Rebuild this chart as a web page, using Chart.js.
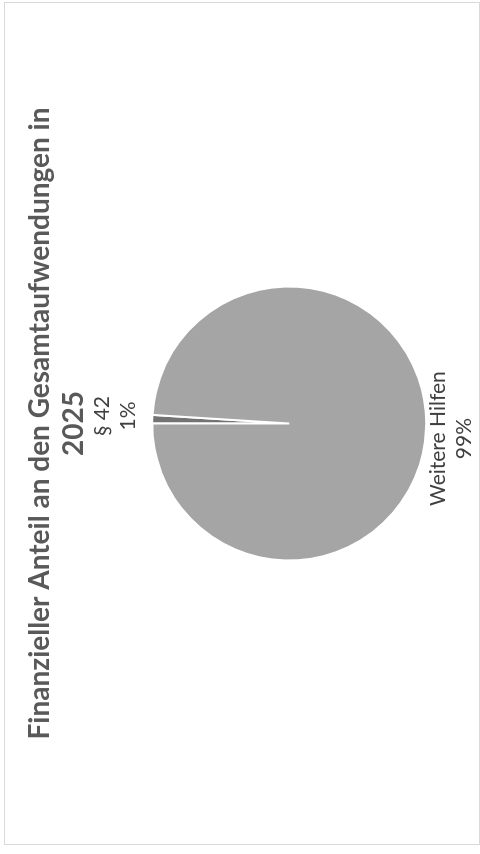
<!DOCTYPE html>
<html>
<head>
<meta charset="utf-8">
<script src="https://cdn.jsdelivr.net/npm/chart.js@4.4.1/dist/chart.umd.min.js"></script>
<style>
  html, body { margin: 0; padding: 0; background: #ffffff; width: 480px; height: 854px; overflow: hidden; }
  #frame {
    position: absolute; left: 4px; top: 2px;
    width: 843px; height: 476px;
    box-sizing: border-box;
    border: 1px solid #d9d9d9;
    background: #ffffff;
    transform-origin: 0 0;
    transform: translate(0, 843px) rotate(-90deg);
  }
  #c { position: absolute; left: -1px; top: -1px; }
</style>
</head>
<body>
<div id="frame"><canvas id="c" width="843" height="476"></canvas></div>
<script>
const categories = ['§ 42', 'Weitere Hilfen'];
const shares = [1, 99];
const sliceColors = ['#737373', '#a5a5a5'];
const titleLines = ['Finanzieller Anteil an den Gesamtaufwendungen in', '2025'];

const FONT = "Lato, 'Open Sans', 'DejaVu Sans', sans-serif";

const outsideLabels = {
  id: 'outsideLabels',
  afterDatasetsDraw(chart, args, opts) {
    const ctx = chart.ctx;
    const meta = chart.getDatasetMeta(0);
    const data = chart.data.datasets[0].data;
    const total = data.reduce((a, b) => a + b, 0);
    ctx.save();
    ctx.font = opts.size + 'px ' + FONT;
    ctx.fillStyle = opts.color;
    ctx.textAlign = 'center';
    ctx.textBaseline = 'middle';
    meta.data.forEach((arc, i) => {
      const p = arc.getProps(['x', 'y', 'startAngle', 'endAngle', 'outerRadius'], true);
      const mid = (p.startAngle + p.endAngle) / 2;
      const d = p.outerRadius + opts.gap[i];
      const cx = p.x + Math.cos(mid) * d + opts.shift[i];
      const cy = p.y + Math.sin(mid) * d;
      const lines = [chart.data.labels[i], Math.round(data[i] / total * 100) + '%'];
      const lh = opts.lineHeight;
      lines.forEach((t, k) => {
        ctx.fillText(t, cx, cy + (k - (lines.length - 1) / 2) * lh);
      });
    });
    ctx.restore();
  }
};

new Chart(document.getElementById('c'), {
  type: 'pie',
  data: {
    labels: categories,
    datasets: [{
      data: shares,
      backgroundColor: sliceColors,
      borderColor: '#ffffff',
      borderWidth: 2,
      radius: 137
    }]
  },
  options: {
    responsive: false,
    animation: false,
    devicePixelRatio: 1,
    layout: { padding: { top: 0, bottom: 4, left: 0, right: 0 } },
    plugins: {
      legend: { display: false },
      tooltip: { enabled: false },
      title: {
        display: true,
        text: titleLines,
        color: '#595959',
        font: { family: FONT, size: 28, weight: 'bold', lineHeight: 1.22 },
        padding: { top: 19, bottom: 11 }
      },
      outsideLabels: { size: 21, color: '#404040', lineHeight: 26, gap: [37, 25], shift: [2, -10] }
    }
  },
  plugins: [outsideLabels]
});
</script>
</body>
</html>
